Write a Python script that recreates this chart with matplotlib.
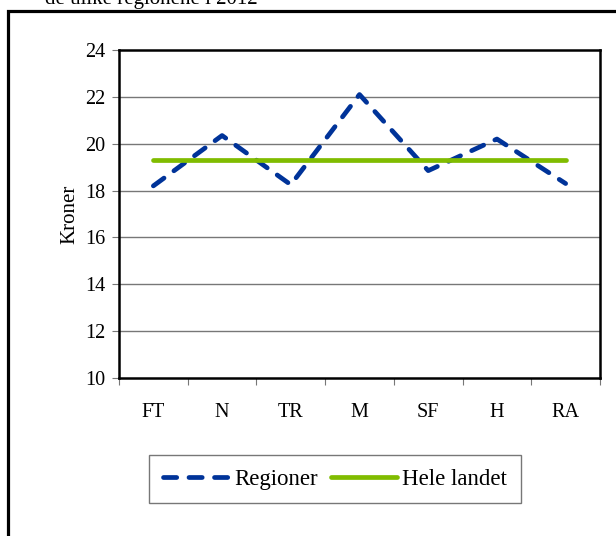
import matplotlib
matplotlib.use("Agg")
import matplotlib.pyplot as plt
from matplotlib.patches import Rectangle

# data
regions = ["FT", "N", "TR", "M", "SF", "H", "RA"]
regioner = [18.2, 20.35, 18.25, 22.1, 18.85, 20.2, 18.3]
hele_landet = [19.3, 19.3, 19.3, 19.3, 19.3, 19.3, 19.3]
y_ticks = [10, 12, 14, 16, 18, 20, 22, 24]

plt.rcParams['font.family'] = ['Liberation Serif', 'DejaVu Serif']

fig = plt.figure(figsize=(6.16, 5.36), dpi=100)
ax = fig.add_axes([119 / 616, 1 - 378 / 536, 481 / 616, 328 / 536])

x = list(range(len(regions)))
ax.plot(x, regioner, color='#003399', linewidth=3.4, linestyle=(0, (2.8, 2.6)),
        dash_capstyle='round', solid_capstyle='round', label='Regioner', zorder=3)
ax.plot(x, hele_landet, color='#80BC00', linewidth=3.4, solid_capstyle='round',
        label='Hele landet', zorder=3)

ax.set_xlim(-0.5, len(regions) - 0.5)
ax.set_ylim(10, 24)
ax.set_yticks(y_ticks)
ax.set_yticklabels([str(v) for v in y_ticks], fontsize=14.5)
ax.set_xticks([i - 0.5 for i in range(len(regions) + 1)])
ax.set_xticklabels([])
ax.set_xticks(x, minor=True)
ax.set_xticklabels(regions, minor=True, fontsize=14.5)
ax.tick_params(axis='x', which='minor', length=0, pad=18)
ax.tick_params(axis='x', which='major', length=5, color='#777777', direction='out')
ax.tick_params(axis='y', length=5, color='#777777', direction='out', pad=5)
for y in y_ticks[1:-1]:
    ax.axhline(y, color='#777777', linewidth=1.0, zorder=1)
for s in ax.spines.values():
    s.set_linewidth(1.8)
    s.set_color('black')

ax.set_ylabel("Kroner", fontsize=15, labelpad=4)

leg = fig.legend(loc='center', bbox_to_anchor=(335 / 616, 1 - 479 / 536), ncol=2,
                 fontsize=16.5, handlelength=2.85, handletextpad=0.25, columnspacing=0.6,
                 fancybox=False, framealpha=1, edgecolor='#777777', borderpad=0.6)
leg.get_frame().set_linewidth(1.0)

# outer border, continues past the right and bottom edges
fig.add_artist(Rectangle((7.5 / 616, -0.1), 1.2, 1.1 - 11 / 536, transform=fig.transFigure,
                         fill=False, edgecolor='black', linewidth=2.3, clip_on=False))

# title above the visible area, only its lower part shows (as in the reference)
fig.text(45 / 616, 1 - 4 / 536, "de ulike regionene i 2012", fontsize=15, va='baseline', ha='left')

fig.savefig("out.png", dpi=100)
